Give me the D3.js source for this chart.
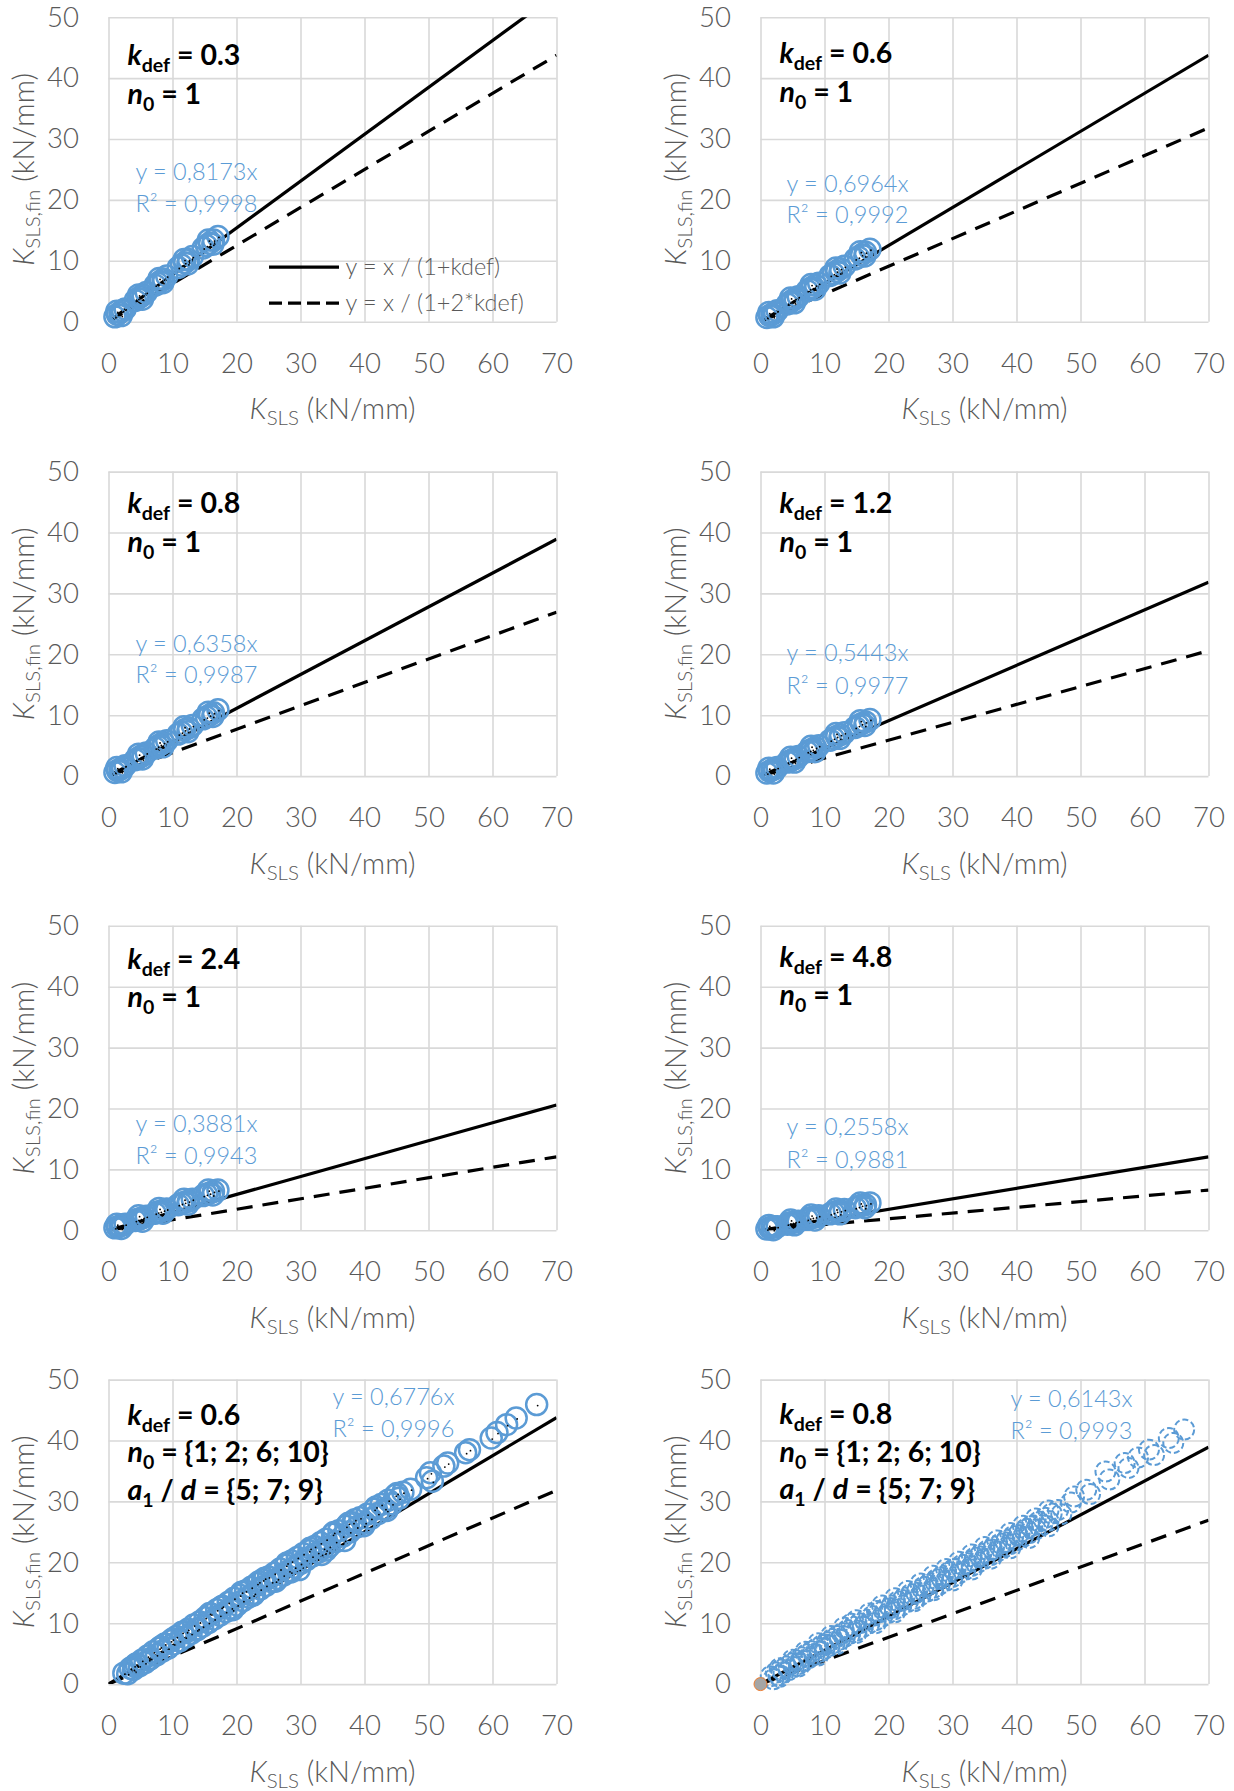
<!DOCTYPE html>
<html>
<head>
<meta charset="utf-8">
<script src="https://cdn.jsdelivr.net/npm/d3@7"></script>
<style>
  body { margin: 0; background: #fff; }
  svg { display: block; font-family: Lato, "Open Sans", sans-serif; }
</style>
</head>
<body>
<svg id="chart" width="1234" height="1791"></svg>
<script>
// ---- axis ticks ----
const xTicks = [0, 10, 20, 30, 40, 50, 60, 70];
const yTicks = [0, 10, 20, 30, 40, 50];

// ---- panel parameters ----
const kdefValues = [0.3, 0.6, 0.8, 1.2, 2.4, 4.8, 0.6, 0.8];
const n0Labels = ["1", "1", "1", "1", "1", "1", "{1; 2; 6; 10}", "{1; 2; 6; 10}"];
const a1dLabels = [null, null, null, null, null, null, "{5; 7; 9}", "{5; 7; 9}"];
const slopeLabels = ["0,8173", "0,6964", "0,6358", "0,5443", "0,3881", "0,2558", "0,6776", "0,6143"];
const r2Labels = ["0,9998", "0,9992", "0,9987", "0,9977", "0,9943", "0,9881", "0,9996", "0,9993"];

// ---- single-fastener series (n0 = 1): K_SLS shared, K_SLS,fin per k_def ----
const kSlsN1 = [1.0, 1.4, 1.8, 2.2, 2.6, 4.2, 4.6, 5.0, 5.4, 5.9, 7.3, 7.7, 8.1, 8.6, 9.1,
                10.9, 11.4, 11.9, 12.5, 13.1, 14.8, 15.3, 15.8, 16.4, 17.1,
                1.3, 2.0, 4.7, 5.3, 7.9, 8.5, 11.8, 12.4, 15.6, 16.3];
const kFinKdef03 = [0.8, 1.2, 1.5, 1.8, 2.1, 3.5, 3.8, 4.1, 4.4, 4.8, 6.0, 6.3, 6.6, 7.0, 7.5,
                    8.9, 9.3, 9.7, 10.2, 10.7, 12.1, 12.5, 12.9, 13.4, 14.0,
                    1.7, 1.0, 4.4, 3.7, 7.1, 6.4, 10.2, 9.5, 13.4, 12.7];
const kFinKdef06 = [0.7, 1.0, 1.2, 1.5, 1.8, 2.9, 3.2, 3.5, 3.8, 4.1, 5.1, 5.4, 5.6, 6.0, 6.3,
                    7.6, 7.9, 8.3, 8.7, 9.1, 10.3, 10.6, 11.0, 11.4, 11.9,
                    1.5, 0.8, 3.9, 3.1, 6.1, 5.3, 8.8, 8.0, 11.5, 10.8];
const kFinKdef08 = [0.6, 0.9, 1.1, 1.4, 1.7, 2.7, 2.9, 3.2, 3.4, 3.8, 4.6, 4.9, 5.2, 5.5, 5.8,
                    6.9, 7.2, 7.6, 7.9, 8.3, 9.4, 9.7, 10.0, 10.4, 10.9,
                    1.4, 0.7, 3.6, 2.8, 5.6, 4.8, 8.1, 7.3, 10.5, 9.8];
const kFinKdef12 = [0.5, 0.8, 1.0, 1.2, 1.4, 2.3, 2.5, 2.7, 2.9, 3.2, 4.0, 4.2, 4.4, 4.7, 5.0,
                    5.9, 6.2, 6.5, 6.8, 7.1, 8.0, 8.3, 8.6, 8.9, 9.3,
                    1.3, 0.5, 3.1, 2.3, 4.9, 4.0, 7.0, 6.2, 9.1, 8.3];
const kFinKdef24 = [0.4, 0.5, 0.7, 0.9, 1.0, 1.6, 1.8, 1.9, 2.1, 2.3, 2.8, 3.0, 3.1, 3.3, 3.5,
                    4.2, 4.4, 4.6, 4.8, 5.1, 5.7, 5.9, 6.1, 6.4, 6.6,
                    1.0, 0.3, 2.4, 1.5, 3.6, 2.8, 5.1, 4.3, 6.6, 5.8];
const kFinKdef48 = [0.2, 0.4, 0.5, 0.6, 0.6, 1.0, 1.2, 1.3, 1.4, 1.5, 1.8, 2.0, 2.1, 2.2, 2.4,
                    2.7, 2.9, 3.1, 3.2, 3.4, 3.7, 3.9, 4.1, 4.2, 4.5,
                    0.8, 0.1, 1.7, 0.9, 2.5, 1.7, 3.5, 2.7, 4.5, 3.7];

// ---- multi-fastener series, k_def = 0.6 ----
const kSlsMix06 = [2.4, 3.0, 3.4, 3.9, 4.3, 4.8, 5.2, 5.7, 6.1, 6.6, 7.0, 7.5, 7.9, 8.4, 8.8, 9.3, 9.7, 10.2, 10.6, 11.1,
  11.5, 12.0, 12.4, 12.9, 13.3, 13.8, 14.2, 14.7, 15.1, 15.6, 16.0, 16.5, 16.9, 17.4, 17.8, 18.3, 18.7, 19.2, 19.6, 20.1,
  20.5, 21.0, 21.4, 21.9, 22.3, 22.8, 23.2, 23.7, 24.1, 24.6, 25.0, 25.5, 25.9, 26.4, 26.8, 27.3, 27.7, 28.2, 28.6, 29.1,
  29.5, 30.0, 30.4, 30.9, 31.3, 31.8, 32.2, 32.7, 33.1, 33.6, 34.0, 34.5, 35.0, 35.5, 36.0, 36.6, 37.1, 37.7, 38.2, 38.8,
  39.3, 39.9, 40.4, 41.0, 41.5, 42.1, 42.6, 43.2, 43.7, 44.3, 44.8, 45.4, 46.0, 47.2,
  4.0, 6.3, 8.1, 10.0, 12.2, 14.0, 15.8, 17.6, 19.4, 20.8, 22.6, 24.4, 26.1, 27.9, 29.8, 31.5, 33.3, 35.2, 36.9, 38.5,
  40.1, 41.8, 43.5, 45.1, 34.0, 37.5, 28.5, 23.5,
  49.7, 50.3, 50.6, 52.4, 53.0, 55.8, 56.4, 59.8, 60.7, 62.2, 63.7, 66.9];
const kFinMix06 = [1.8, 1.7, 2.6, 2.4, 3.3, 3.0, 3.9, 3.5, 4.6, 4.2, 5.3, 4.8, 5.9, 5.4, 6.6, 5.9, 7.1, 6.6, 7.8, 7.1,
  8.5, 7.7, 9.0, 8.3, 9.7, 8.9, 10.2, 9.5, 10.9, 10.1, 11.5, 10.7, 12.2, 11.3, 12.8, 11.9, 13.4, 12.5, 14.1, 13.0,
  14.6, 13.7, 15.3, 14.3, 15.9, 14.9, 16.5, 15.6, 17.1, 16.2, 17.6, 16.8, 18.2, 17.3, 18.9, 17.9, 19.5, 18.6, 20.2, 19.2,
  20.8, 19.8, 21.4, 20.4, 21.9, 21.0, 22.6, 21.6, 23.2, 22.3, 23.8, 22.6, 24.6, 23.4, 25.2, 24.3, 25.9, 25.0, 26.5, 25.8,
  27.3, 26.0, 27.9, 27.2, 28.7, 28.0, 29.5, 28.8, 30.2, 29.6, 31.0, 30.5, 31.5, 32.0,
  3.0, 4.0, 6.1, 7.4, 8.6, 9.1, 11.6, 12.6, 12.2, 15.1, 14.6, 17.4, 16.9, 19.9, 18.8, 22.3, 21.3, 24.9, 23.6, 27.0,
  26.5, 29.1, 28.5, 31.3, 22.0, 26.4, 18.4, 16.8,
  33.9, 34.7, 33.3, 35.8, 36.3, 38.0, 38.5, 40.4, 41.3, 42.6, 43.7, 45.9];

// ---- multi-fastener series, k_def = 0.8 ----
const kSlsMix08 = [1.6, 2.0, 2.4, 2.8, 3.2, 3.6, 4.0, 4.4, 4.8, 5.2, 5.6, 6.0, 6.4, 6.8, 7.2, 7.6, 8.0, 8.4, 8.8, 9.2,
  9.6, 10.0, 10.4, 10.8, 11.2, 11.6, 12.0, 12.4, 12.8, 13.2, 13.6, 14.0,
  14.5, 15.0, 15.5, 16.0, 16.5, 17.0, 17.5, 18.0, 18.5, 19.0, 19.5, 20.0, 20.5, 21.0, 21.5, 22.0, 22.5, 23.0, 23.5, 24.0,
  24.5, 25.0, 25.5, 26.0, 26.5, 27.0, 27.5, 28.0, 28.5, 29.0, 29.5, 30.0, 30.5, 31.0, 31.5, 32.0, 32.5, 33.0, 33.5, 34.0,
  34.5, 35.0, 35.5, 36.0, 36.5, 37.0, 37.5, 38.0, 38.5, 39.0, 39.5, 40.0, 40.5, 41.0, 41.5, 42.0, 42.5, 43.0, 43.5, 44.0,
  44.5, 45.0, 45.5,
  46.5, 47.0, 48.5, 49.0, 50.9, 51.5, 53.9, 54.5, 56.9, 57.5, 59.0, 60.7, 61.5, 63.8, 64.5, 66.2,
  14.2, 18.2, 22.2, 26.2, 30.2, 34.2, 38.2, 42.2, 10.2, 6.2, 28.2, 36.2, 40.2, 20.3, 24.3, 32.3,
  3.0, 5.0, 7.0, 9.0, 11.0, 13.0, 15.0, 17.0, 19.0, 21.0, 23.0, 25.0, 27.0, 29.0, 31.0, 33.0, 35.0, 37.0, 39.0, 41.0,
  43.0, 45.0,
  3.0, 6.0, 9.0, 12.0, 15.0, 18.0, 21.0, 24.0, 27.0, 30.0, 33.0, 36.0, 39.0, 42.0, 45.0];
const kFinMix08 = [1.3, 0.8, 1.9, 1.4, 2.4, 1.9, 2.9, 2.3, 3.4, 2.8, 3.9, 3.3, 4.4, 3.8, 4.9, 4.3, 5.4, 4.8, 5.9, 5.3,
  6.4, 5.8, 6.9, 6.3, 7.4, 6.8, 7.9, 7.3, 8.4, 7.8, 8.9, 8.3,
  9.4, 8.8, 10.0, 9.4, 10.6, 10.0, 11.2, 10.5, 11.8, 11.1, 12.4, 11.7, 12.9, 12.3, 13.6, 12.9, 14.2, 13.5, 14.8, 14.0,
  15.4, 14.6, 16.0, 15.2, 16.6, 15.8, 17.2, 16.4, 17.8, 17.0, 18.4, 17.6, 19.0, 18.2, 19.6, 18.8, 20.2, 19.4, 20.8, 20.0,
  21.4, 20.6, 22.0, 21.2, 22.6, 21.8, 23.1, 22.4, 23.7, 23.0, 24.3, 23.6, 24.9, 24.2, 25.5, 24.8, 26.1, 25.4, 26.7, 26.1,
  27.3, 26.8, 28.0,
  28.6, 27.9, 29.8, 30.8, 31.9, 31.2, 34.9, 33.6, 36.3, 35.5, 37.2, 38.5, 37.6, 40.4, 39.6, 41.8,
  9.9, 12.0, 13.8, 16.3, 18.9, 21.0, 23.3, 25.9, 6.5, 3.7, 17.5, 22.1, 24.5, 12.5, 15.0, 19.9,
  2.6, 4.0, 5.3, 6.7, 7.9, 9.3, 10.5, 11.6, 12.9, 14.1, 15.3, 16.5, 17.8, 18.9, 20.1, 21.3, 22.5, 23.6, 24.8, 26.0,
  27.2, 28.5,
  1.2, 2.9, 4.7, 6.6, 8.4, 10.0, 11.8, 13.6, 15.4, 17.0, 18.8, 20.6, 22.3, 24.0, 25.9];

const seriesX = [kSlsN1, kSlsN1, kSlsN1, kSlsN1, kSlsN1, kSlsN1, kSlsMix06, kSlsMix08];
const seriesY = [kFinKdef03, kFinKdef06, kFinKdef08, kFinKdef12, kFinKdef24, kFinKdef48, kFinMix06, kFinMix08];

// ---- layout ----
const W = 448, H = 304.5;
const colLeft = [108.5, 760.5];
const rowTop = [17.2, 471.6, 925.8, 1379.6];
// baselines of the bold parameter lines, relative to plot top
const paramBase = [[48, 87], [46, 85], [41, 80], [41, 80], [43, 81], [41, 79], [45, 82, 120], [44, 82, 119]];
// equation block: x offset, baseline of y-line, baseline of R²-line
const eqPos = [[27, 163, 195], [26, 175, 206], [27, 180, 211], [26, 189, 222],
               [27, 206, 238], [26, 209, 242], [224, 25, 57], [250, 27, 59]];

const BLUE = "#5B9BD5", GRID = "#d9d9d9", TEXT = "#595959";
const TICK_FS = 27.5, PARAM_FS = 28.5, SUB_FS = 19.5, EQ_FS = 23.5, TITLE_FS = 29, TITLE_SUB_FS = 20.5;
const LINE_DASH = "16,10", LEGEND_DASH = "13,6";

const svg = d3.select("#chart");

kdefValues.forEach((kdef, i) => {
  const col = i % 2, row = Math.floor(i / 2);
  const g = svg.append("g").attr("transform", `translate(${colLeft[col]},${rowTop[row]})`);
  const x = d3.scaleLinear().domain([0, 70]).range([0, W]);
  const y = d3.scaleLinear().domain([0, 50]).range([H, 0]);

  const clipId = "clip" + i;
  g.append("clipPath").attr("id", clipId).append("rect").attr("width", W).attr("height", H);

  // gridlines + tick labels
  const yAxis = g.append("g").call(d3.axisLeft(y).tickValues(yTicks).tickSize(-W).tickPadding(29.5));
  const xAxis = g.append("g").attr("transform", `translate(0,${H})`)
    .call(d3.axisBottom(x).tickValues(xTicks).tickSize(-H).tickPadding(0));
  [xAxis, yAxis].forEach(a => {
    a.select(".domain").remove();
    a.selectAll(".tick line").attr("stroke", GRID).attr("stroke-width", 1.6);
    a.selectAll(".tick text").attr("fill", TEXT).attr("font-size", TICK_FS).attr("font-weight", 300)
      .attr("font-family", "Lato, sans-serif");
  });
  xAxis.selectAll(".tick text").attr("dy", null).attr("y", 51);

  // reference lines y = x/(1+kdef) and y = x/(1+2 kdef)
  const refs = [{div: 1 + kdef, dash: null}, {div: 1 + 2 * kdef, dash: LINE_DASH}];
  const line = d3.line().x(d => x(d[0])).y(d => y(d[1]));
  refs.forEach(r => {
    g.append("path")
      .attr("clip-path", `url(#${clipId})`)
      .attr("d", line([[0, 0], [70, 70 / r.div]]))
      .attr("fill", "none").attr("stroke", "#000").attr("stroke-width", 3.2)
      .attr("stroke-dasharray", r.dash);
  });

  // data markers
  const pts = d3.zip(seriesX[i], seriesY[i]);
  const dashed = i === 7;
  g.append("g").selectAll("circle").data(pts).join("circle")
    .attr("cx", d => x(d[0])).attr("cy", d => y(d[1])).attr("r", dashed ? 10 : 10.5)
    .attr("fill", "none").attr("stroke", BLUE)
    .attr("stroke-width", dashed ? 2 : 2.5)
    .attr("stroke-dasharray", dashed ? "6,3" : null);
  if (!dashed) {
    g.append("g").selectAll("circle").data(pts).join("circle")
      .attr("cx", d => x(d[0]) + 1).attr("cy", d => y(d[1]) + 1).attr("r", 0.9)
      .attr("fill", "#000");
  }
  if (dashed) {
    g.append("circle").attr("cx", x(0)).attr("cy", y(0)).attr("r", 6.5)
      .attr("fill", "#a5a5a5").attr("stroke", "#ed7d31").attr("stroke-width", 1);
  }

  // parameter text block
  const pb = paramBase[i];
  const px = 19;
  const t1 = g.append("text").attr("x", px).attr("y", pb[0])
    .attr("font-size", PARAM_FS).attr("font-weight", 700).attr("fill", "#000");
  t1.append("tspan").attr("font-style", "italic").text("k");
  t1.append("tspan").attr("font-size", SUB_FS).attr("dy", 7).text("def");
  t1.append("tspan").attr("dy", -7).text(" = " + kdef);

  const t2 = g.append("text").attr("x", px).attr("y", pb[1])
    .attr("font-size", PARAM_FS).attr("font-weight", 700).attr("fill", "#000");
  t2.append("tspan").attr("font-style", "italic").text("n");
  t2.append("tspan").attr("font-size", SUB_FS).attr("dy", 7).text("0");
  t2.append("tspan").attr("dy", -7).text(" = " + n0Labels[i]);

  if (a1dLabels[i]) {
    const t3 = g.append("text").attr("x", px).attr("y", pb[2])
      .attr("font-size", PARAM_FS).attr("font-weight", 700).attr("fill", "#000");
    t3.append("tspan").attr("font-style", "italic").text("a");
    t3.append("tspan").attr("font-size", SUB_FS).attr("dy", 7).text("1");
    t3.append("tspan").attr("dy", -7).text(" / ");
    t3.append("tspan").attr("font-style", "italic").text("d");
    t3.append("tspan").text(" = " + a1dLabels[i]);
  }

  // regression equation
  const ep = eqPos[i];
  g.append("text").attr("x", ep[0]).attr("y", ep[1])
    .attr("font-size", EQ_FS).attr("font-weight", 300).attr("fill", BLUE)
    .text("y = " + slopeLabels[i] + "x");
  g.append("text").attr("x", ep[0]).attr("y", ep[2])
    .attr("font-size", EQ_FS).attr("font-weight", 300).attr("fill", BLUE)
    .text("R² = " + r2Labels[i]);

  // axis titles
  const xt = g.append("text").attr("x", W / 2).attr("y", H + 97.5)
    .attr("text-anchor", "middle").attr("font-size", TITLE_FS).attr("font-weight", 300).attr("fill", TEXT);
  xt.append("tspan").attr("font-style", "italic").text("K");
  xt.append("tspan").attr("font-size", TITLE_SUB_FS).attr("dy", 6).text("SLS");
  xt.append("tspan").attr("dy", -6).text(" (kN/mm)");

  const yt = g.append("text")
    .attr("transform", `translate(-75,${H / 2}) rotate(-90)`)
    .attr("text-anchor", "middle").attr("font-size", TITLE_FS).attr("font-weight", 300).attr("fill", TEXT);
  yt.append("tspan").attr("font-style", "italic").text("K");
  yt.append("tspan").attr("font-size", TITLE_SUB_FS).attr("dy", 6).text("SLS,fin");
  yt.append("tspan").attr("dy", -6).text(" (kN/mm)");

  // legend (first panel only)
  if (i === 0) {
    const lg = g.append("g");
    const items = [{label: "y = x / (1+kdef)", dash: null, yy: 250},
                   {label: "y = x / (1+2*kdef)", dash: LEGEND_DASH, yy: 286}];
    items.forEach(it => {
      lg.append("line").attr("x1", 160.5).attr("x2", 230.5).attr("y1", it.yy).attr("y2", it.yy)
        .attr("stroke", "#000").attr("stroke-width", 3.2).attr("stroke-dasharray", it.dash);
      lg.append("text").attr("x", 237).attr("y", it.yy + 8)
        .attr("font-size", EQ_FS).attr("font-weight", 300).attr("fill", TEXT).text(it.label);
    });
  }
});
</script>
</body>
</html>
